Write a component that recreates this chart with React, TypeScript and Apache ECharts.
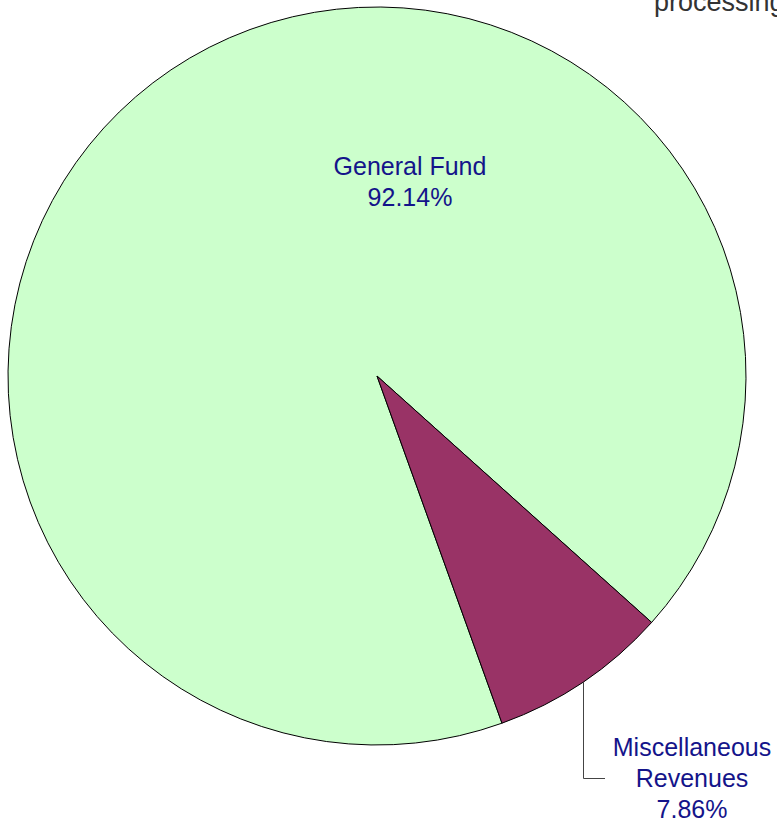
import React, { useEffect, useRef } from 'react';
import * as echarts from 'echarts';

const categories: string[] = ['General Fund', 'Miscellaneous Revenues'];
const shares: number[] = [92.14, 7.86];
const sliceColors: string[] = ['#ccffcc', '#993366'];
const statusText = 'processing';

export default function App() {
  const ref = useRef<HTMLDivElement>(null);

  useEffect(() => {
    if (!ref.current) return;
    const chart = echarts.init(ref.current, null, { renderer: 'svg' });

    const cx = 377;
    const cy = 376;
    const r = 369;
    const startAngle = 289.8;
    const total = shares.reduce((a, b) => a + b, 0);
    const labelPos: number[][] = [
      [410, 181],
      [692, 778],
    ];

    // leader line for the second slice, derived from its data-driven mid angle
    const before = shares.slice(0, 1).reduce((a, b) => a + b, 0);
    const midDeg = startAngle - ((before + shares[1] / 2) / total) * 360;
    const rad = (midDeg * Math.PI) / 180;
    const ex = Math.round(cx + r * Math.cos(rad)) + 0.5;
    const ey = cy - r * Math.sin(rad);
    const ly = labelPos[1][1] + 0.5;

    const textColor = '#14148a';
    const font = '"Liberation Sans", Arial, sans-serif';

    chart.setOption({
      animation: false,
      backgroundColor: '#ffffff',
      series: [
        {
          type: 'pie',
          center: [cx, cy],
          radius: r,
          startAngle,
          clockwise: true,
          avoidLabelOverlap: false,
          silent: true,
          itemStyle: { borderColor: '#000000', borderWidth: 1 },
          label: {
            show: true,
            position: 'inside',
            color: textColor,
            fontFamily: font,
            fontSize: 25,
            lineHeight: 31,
            align: 'center',
            formatter: (p: any) =>
              (p.dataIndex === 1 ? p.name.split(' ').join('\n') : p.name) +
              '\n' +
              Number(p.percent).toFixed(2) +
              '%',
          },
          labelLine: { show: false },
          labelLayout: (params: any) => ({
            x: labelPos[params.dataIndex][0],
            y: labelPos[params.dataIndex][1],
            align: 'center',
            verticalAlign: 'middle',
          }),
          data: categories.map((name, i) => ({
            name,
            value: shares[i],
            itemStyle: { color: sliceColors[i] },
          })),
        },
      ],
      graphic: [
        {
          type: 'polyline',
          silent: true,
          z: 10,
          shape: {
            points: [
              [ex, ey],
              [ex, ly],
              [605, ly],
            ],
          },
          style: { stroke: '#444444', lineWidth: 1, fill: 'none' },
        },
        {
          type: 'text',
          silent: true,
          x: 654,
          y: 2,
          style: {
            text: statusText,
            fill: '#333333',
            font: '27px "Liberation Sans", Arial, sans-serif',
            verticalAlign: 'middle',
          },
        },
      ],
    });

    return () => {
      chart.dispose();
    };
  }, []);

  return (
    <div
      ref={ref}
      style={{ position: 'fixed', left: 0, top: 0, width: 777, height: 824 }}
    />
  );
}
